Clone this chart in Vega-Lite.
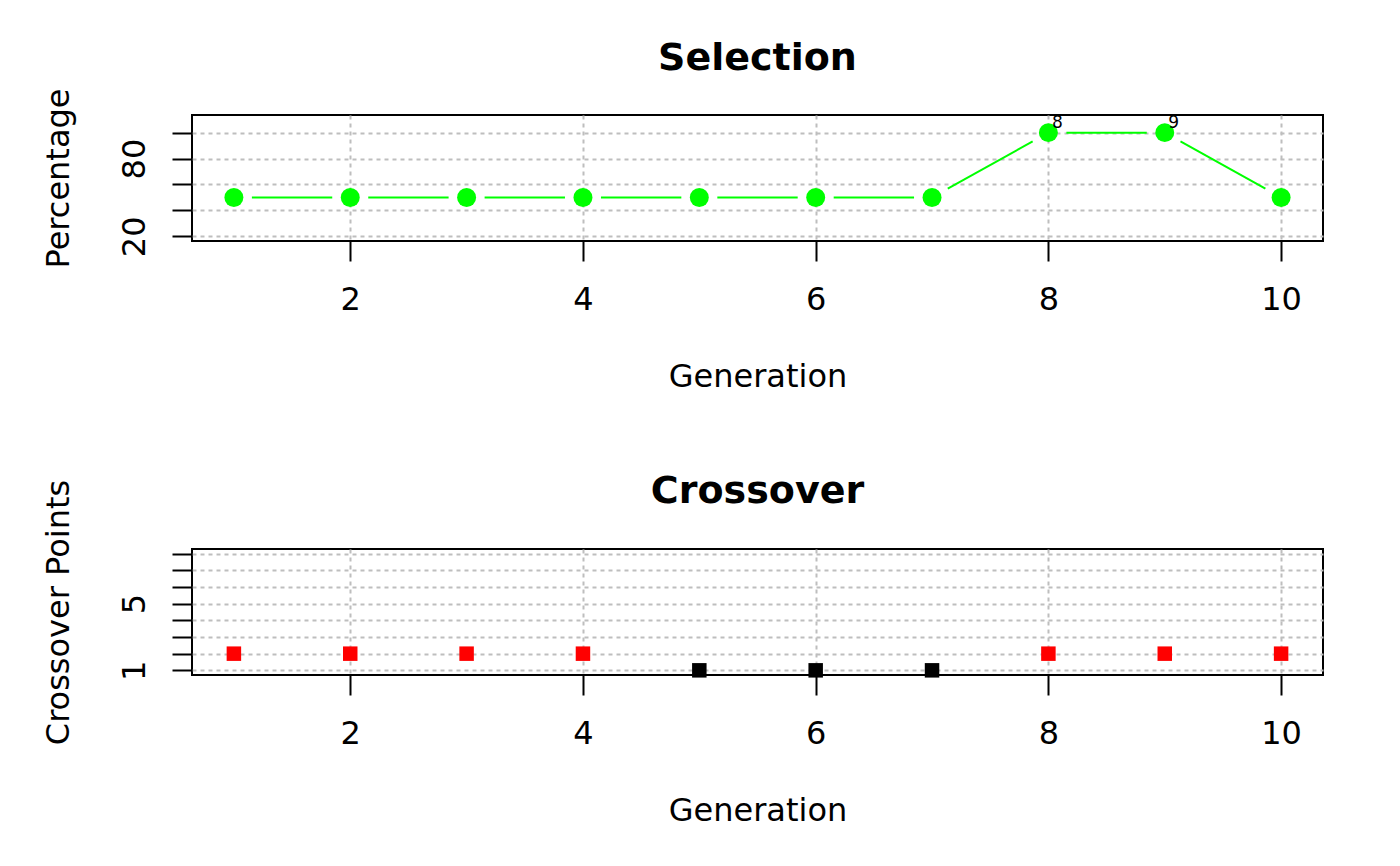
{
  "$schema": "https://vega.github.io/schema/vega-lite/v6.json",
  "padding": {"left": 40, "top": 38, "right": 5, "bottom": 5},
  "background": "white",
  "data": {
    "values": [
      {"Generation": 1, "Percentage": 50, "Crossover": 2},
      {"Generation": 2, "Percentage": 50, "Crossover": 2},
      {"Generation": 3, "Percentage": 50, "Crossover": 2},
      {"Generation": 4, "Percentage": 50, "Crossover": 2},
      {"Generation": 5, "Percentage": 50, "Crossover": 1},
      {"Generation": 6, "Percentage": 50, "Crossover": 1},
      {"Generation": 7, "Percentage": 50, "Crossover": 1},
      {"Generation": 8, "Percentage": 100, "Crossover": 2},
      {"Generation": 9, "Percentage": 100, "Crossover": 2},
      {"Generation": 10, "Percentage": 50, "Crossover": 2}
    ]
  },
  "bounds": "flush",
  "spacing": 308,
  "resolve": {"scale": {"x": "independent", "y": "independent"}},
  "vconcat": [
    {
      "width": 1131,
      "height": 126,
      "title": {"text": "Selection", "offset": 10},
      "encoding": {
        "x": {
          "field": "Generation", "type": "quantitative",
          "scale": {"domain": [0.64, 10.36], "nice": false, "zero": false},
          "axis": {"values": [2, 4, 6, 8, 10], "title": "Generation"}
        },
        "y": {
          "field": "Percentage", "type": "quantitative",
          "scale": {"domain": [16.4, 113.6], "nice": false, "zero": false},
          "axis": {
            "values": [20, 40, 60, 80, 100], "title": "Percentage",
            "labelExpr": "datum.value == 20 || datum.value == 80 ? datum.label : ''"
          }
        }
      },
      "layer": [
        {
          "transform": [{"filter": "datum.Generation <= 7"}],
          "mark": {"type": "line", "color": "#00FF00", "strokeWidth": 2, "strokeDash": [80.36, 36], "strokeDashOffset": 98.36}
        },
        {
          "transform": [{"filter": "datum.Generation >= 7 && datum.Generation <= 8"}],
          "mark": {"type": "line", "color": "#00FF00", "strokeWidth": 2, "strokeDash": [97.19, 36], "strokeDashOffset": 115.19}
        },
        {
          "transform": [{"filter": "datum.Generation >= 8 && datum.Generation <= 9"}],
          "mark": {"type": "line", "color": "#00FF00", "strokeWidth": 2, "strokeDash": [80.36, 36], "strokeDashOffset": 98.36}
        },
        {
          "transform": [{"filter": "datum.Generation >= 9"}],
          "mark": {"type": "line", "color": "#00FF00", "strokeWidth": 2, "strokeDash": [97.19, 36], "strokeDashOffset": 115.19}
        },
        {
          "mark": {"type": "circle", "color": "#00FF00", "size": 360, "opacity": 1}
        },
        {
          "transform": [{"filter": "datum.Generation == 8 || datum.Generation == 9"}],
          "mark": {"type": "text", "font": "DejaVu Sans", "fontSize": 17, "color": "black", "dx": 9, "dy": -10, "align": "center", "baseline": "middle"},
          "encoding": {"text": {"field": "Generation", "type": "quantitative"}}
        }
      ]
    },
    {
      "width": 1131,
      "height": 126,
      "title": {"text": "Crossover", "offset": -32},
      "mark": {"type": "point", "shape": "square", "filled": true, "size": 210, "opacity": 1},
      "encoding": {
        "x": {
          "field": "Generation", "type": "quantitative",
          "scale": {"domain": [0.64, 10.36], "nice": false, "zero": false},
          "axis": {"values": [2, 4, 6, 8, 10], "title": "Generation"}
        },
        "y": {
          "field": "Crossover", "type": "quantitative",
          "scale": {"domain": [0.72, 8.28], "nice": false, "zero": false},
          "axis": {
            "values": [1, 2, 3, 4, 5, 6, 7, 8], "title": "Crossover Points",
            "labelExpr": "datum.value == 1 || datum.value == 5 ? datum.label : ''"
          }
        },
        "color": {
          "field": "Crossover", "type": "nominal",
          "scale": {"domain": [1, 2], "range": ["#000000", "#FF0000"]},
          "legend": null
        }
      }
    }
  ],
  "config": {
    "font": "DejaVu Sans",
    "view": {"stroke": "black", "strokeWidth": 2},
    "axis": {
      "domain": false,
      "tickColor": "black", "tickWidth": 2, "tickSize": 20,
      "labelFont": "DejaVu Sans", "labelFontSize": 32, "labelColor": "black",
      "labelOverlap": false, "labelFlush": false,
      "titleFont": "DejaVu Sans", "titleFontSize": 32, "titleFontWeight": "normal", "titleColor": "black",
      "grid": true, "gridColor": "#BEBEBE", "gridDash": [4, 4], "gridWidth": 2,
      "zindex": 1
    },
    "axisX": {
      "labelBaseline": "alphabetic", "labelPadding": 48,
      "titleBaseline": "alphabetic", "titleAlign": "center", "titleX": 565.5, "titleY": 145
    },
    "axisY": {
      "labelAngle": 270, "labelAlign": "center", "labelBaseline": "alphabetic", "labelPadding": 28,
      "titleAngle": 270, "titleBaseline": "alphabetic", "titleAlign": "center", "titleX": -124, "titleY": 63
    },
    "title": {"fontSize": 38, "fontWeight": "bold", "font": "DejaVu Sans", "color": "black", "baseline": "alphabetic", "anchor": "middle"}
  }
}
